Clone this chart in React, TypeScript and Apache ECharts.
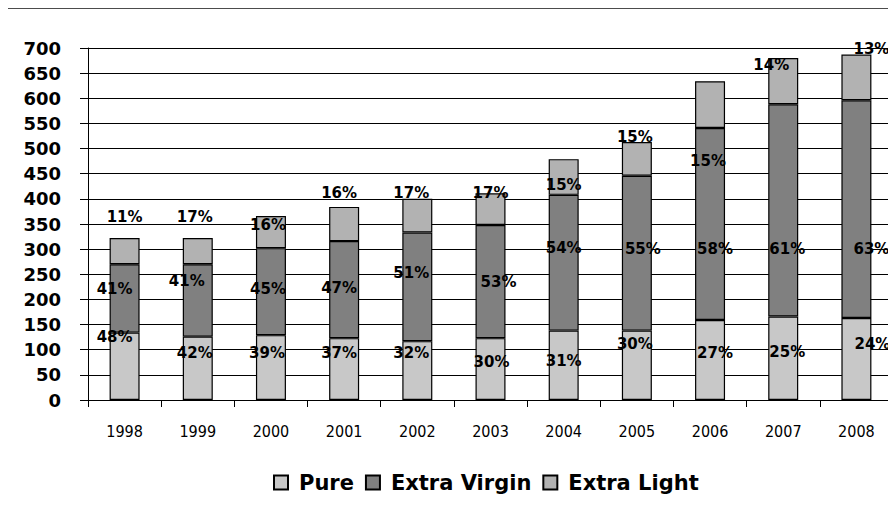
import React, { useEffect, useRef } from "react";
import * as echarts from "echarts";

const YEARS = ["1998", "1999", "2000", "2001", "2002", "2003", "2004", "2005", "2006", "2007", "2008"];
const PURE = [134, 126, 129, 123, 117, 123, 138, 138, 159, 166, 163];
const EXTRA_VIRGIN = [136, 144, 173, 193, 216, 225, 270, 308, 382, 422, 433];
const EXTRA_LIGHT = [52, 52, 64, 68, 67, 63, 71, 67, 93, 92, 91];
const PURE_PCT = ["48%", "42%", "39%", "37%", "32%", "30%", "31%", "30%", "27%", "25%", "24%"];
const EV_PCT = ["41%", "41%", "45%", "47%", "51%", "53%", "54%", "55%", "58%", "61%", "63%"];
const EL_PCT = ["11%", "17%", "16%", "16%", "17%", "17%", "15%", "15%", "15%", "14%", "13%"];

// label offsets (layout only) relative to segment centre
const PURE_OFF = [[-10, -29], [-3, -15], [-4, -15], [-5, -16], [-6, -18], [1, -7], [0, -4], [-2, -21], [5, -7], [4, -6], [16, -15]];
const EV_OFF = [[-10, -9], [-11, -19], [-3, -3], [-5, -2], [-6, -14], [8, 0], [0, -15], [6, -4], [5, 25], [4, 39], [15, 40]];
const EL_OFF = [[0, -34], [-3, -34], [-3, -7], [-5, -31], [-6, -23], [0, -16], [0, 8], [-2, -22], [-2, 56], [-12, -16], [15, -28]];

const FONT = "'DejaVu Sans', sans-serif";

function mk(values: number[], pct: string[], off: number[][]) {
  return values.map((v, i) => ({
    value: v,
    label: { show: true, position: "inside", offset: off[i], formatter: pct[i] },
  }));
}

export default function App() {
  const ref = useRef<HTMLDivElement>(null);
  useEffect(() => {
    if (!ref.current) return;
    const chart = echarts.init(ref.current, null, { renderer: "svg" });
    const labelStyle = {
      color: "#000",
      fontFamily: FONT,
      fontWeight: "bold" as const,
      fontSize: 15,
    };
    const common = {
      type: "bar" as const,
      stack: "total",
      barWidth: 30,
      label: labelStyle,
    };
    chart.setOption({
      animation: false,
      textStyle: { fontFamily: FONT },
      grid: { left: 88, right: 3, top: 48, bottom: 106, containLabel: false },
      graphic: [
        {
          type: "line",
          shape: { x1: 0, y1: 8, x2: 896, y2: 8 },
          style: { stroke: "#111", lineWidth: 1.5 },
        },
      ],
      legend: {
        left: 273,
        top: 472,
        padding: 0,
        itemWidth: 14,
        itemHeight: 14,
        itemGap: 11,
        icon: "rect",
        textStyle: {
          color: "#000",
          fontFamily: FONT,
          fontWeight: "bold",
          fontSize: 21,
          padding: [0, 0, 0, 6],
        },
        data: ["Pure", "Extra Virgin", "Extra Light"],
      },
      xAxis: {
        type: "category",
        data: YEARS,
        axisLine: { lineStyle: { color: "#000", width: 1 } },
        axisTick: { show: true, length: 7, lineStyle: { color: "#000" } },
        axisLabel: {
          color: "#000",
          fontSize: 16,
          fontFamily: "'DejaVu Sans Condensed', 'Liberation Sans', sans-serif",
          margin: 23,
        },
      },
      yAxis: {
        type: "value",
        min: 0,
        max: 700,
        interval: 50,
        axisLine: { show: true, lineStyle: { color: "#000", width: 1 } },
        axisTick: { show: true, length: 8, lineStyle: { color: "#000" } },
        splitLine: { show: true, lineStyle: { color: "#000", width: 1 } },
        axisLabel: {
          color: "#000",
          fontSize: 18,
          fontWeight: "bold",
          fontFamily: FONT,
          margin: 27,
        },
      },
      series: [
        {
          ...common,
          name: "Pure",
          itemStyle: { color: "#c8c8c8", borderColor: "#000", borderWidth: 1.2 },
          data: mk(PURE, PURE_PCT, PURE_OFF),
        },
        {
          ...common,
          name: "Extra Virgin",
          itemStyle: { color: "#808080", borderColor: "#000", borderWidth: 1.2 },
          data: mk(EXTRA_VIRGIN, EV_PCT, EV_OFF),
        },
        {
          ...common,
          name: "Extra Light",
          itemStyle: { color: "#b2b2b2", borderColor: "#000", borderWidth: 1.2 },
          data: mk(EXTRA_LIGHT, EL_PCT, EL_OFF),
        },
      ],
    });
    return () => chart.dispose();
  }, []);
  return <div ref={ref} style={{ width: 896, height: 506, margin: -8 }} />;
}
